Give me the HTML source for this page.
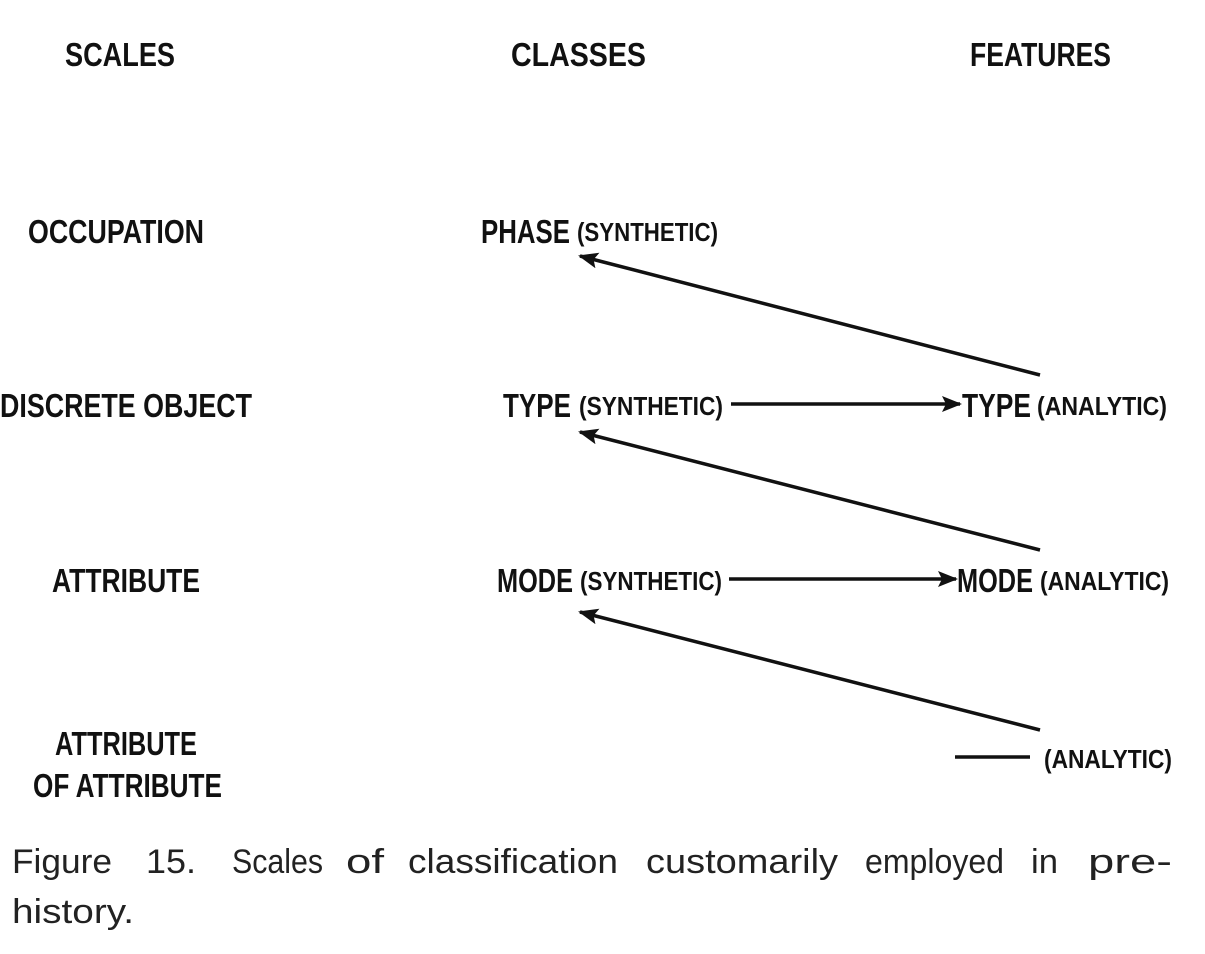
<!DOCTYPE html>
<html><head><meta charset="utf-8"><style>
html,body{margin:0;padding:0;background:#fff;}
svg{display:block;}
.b{font-family:"Liberation Sans Narrow","Liberation Sans",sans-serif;font-weight:bold;fill:#111;}
.c{font-family:"Liberation Sans",sans-serif;fill:#222;font-size:34px;}
</style></head><body>
<svg width="1205" height="954" viewBox="0 0 1205 954" xmlns="http://www.w3.org/2000/svg">
<defs>
<marker id="h" viewBox="0 0 20 16" markerWidth="20" markerHeight="16" refX="18" refY="8" orient="auto" markerUnits="userSpaceOnUse"><path d="M0,0 L20,8 L0,16 L4,8 Z" fill="#111"/></marker></defs>
<g class="b" font-size="33">
<text x="65" y="66" textLength="110" lengthAdjust="spacingAndGlyphs">SCALES</text>
<text x="511" y="66" textLength="135" lengthAdjust="spacingAndGlyphs">CLASSES</text>
<text x="970" y="66" textLength="141" lengthAdjust="spacingAndGlyphs">FEATURES</text>
<text x="28" y="243" textLength="176" lengthAdjust="spacingAndGlyphs">OCCUPATION</text>
<text x="0" y="417" textLength="252" lengthAdjust="spacingAndGlyphs">DISCRETE  OBJECT</text>
<text x="52" y="592" textLength="148" lengthAdjust="spacingAndGlyphs">ATTRIBUTE</text>
<text x="55" y="755" textLength="142" lengthAdjust="spacingAndGlyphs">ATTRIBUTE</text>
<text x="33" y="797" textLength="189" lengthAdjust="spacingAndGlyphs">OF ATTRIBUTE</text>
<text x="481" y="243" textLength="89" lengthAdjust="spacingAndGlyphs">PHASE</text>
<text x="503" y="417" textLength="68" lengthAdjust="spacingAndGlyphs">TYPE</text>
<text x="962" y="417" textLength="69" lengthAdjust="spacingAndGlyphs">TYPE</text>
<text x="497" y="592" textLength="76" lengthAdjust="spacingAndGlyphs">MODE</text>
<text x="957" y="592" textLength="76" lengthAdjust="spacingAndGlyphs">MODE</text>
</g>
<g class="b" font-size="26">
<text x="577" y="241" textLength="141" lengthAdjust="spacingAndGlyphs">(SYNTHETIC)</text>
<text x="579" y="415" textLength="144" lengthAdjust="spacingAndGlyphs">(SYNTHETIC)</text>
<text x="1037" y="415" textLength="130" lengthAdjust="spacingAndGlyphs">(ANALYTIC)</text>
<text x="580" y="590" textLength="142" lengthAdjust="spacingAndGlyphs">(SYNTHETIC)</text>
<text x="1040" y="590" textLength="129" lengthAdjust="spacingAndGlyphs">(ANALYTIC)</text>
<text x="1044" y="768" textLength="128" lengthAdjust="spacingAndGlyphs">(ANALYTIC)</text>
</g>
<g stroke="#111" stroke-width="3.5" fill="none">
<line x1="731" y1="404" x2="960" y2="404" marker-end="url(#h)"/>
<line x1="729" y1="579" x2="956" y2="579" marker-end="url(#h)"/>
<line x1="1040" y1="375" x2="580" y2="256" marker-end="url(#h)"/>
<line x1="1040" y1="550" x2="580" y2="432" marker-end="url(#h)"/>
<line x1="1040" y1="730" x2="580" y2="612" marker-end="url(#h)"/>
<line x1="955" y1="757" x2="1030" y2="757"/>
</g>
<g class="c">
<text x="12" y="873" textLength="100" lengthAdjust="spacingAndGlyphs">Figure</text>
<text x="146" y="873" textLength="50" lengthAdjust="spacingAndGlyphs">15.</text>
<text x="232" y="873" textLength="91" lengthAdjust="spacingAndGlyphs">Scales</text>
<text x="346" y="873" textLength="38" lengthAdjust="spacingAndGlyphs">of</text>
<text x="408" y="873" textLength="210" lengthAdjust="spacingAndGlyphs">classification</text>
<text x="646" y="873" textLength="192" lengthAdjust="spacingAndGlyphs">customarily</text>
<text x="865" y="873" textLength="139" lengthAdjust="spacingAndGlyphs">employed</text>
<text x="1031" y="873" textLength="27" lengthAdjust="spacingAndGlyphs">in</text>
<text x="1088" y="873" textLength="84" lengthAdjust="spacingAndGlyphs">pre-</text>
<text x="12" y="923" textLength="122" lengthAdjust="spacingAndGlyphs">history.</text>
</g>
</svg>
</body></html>
